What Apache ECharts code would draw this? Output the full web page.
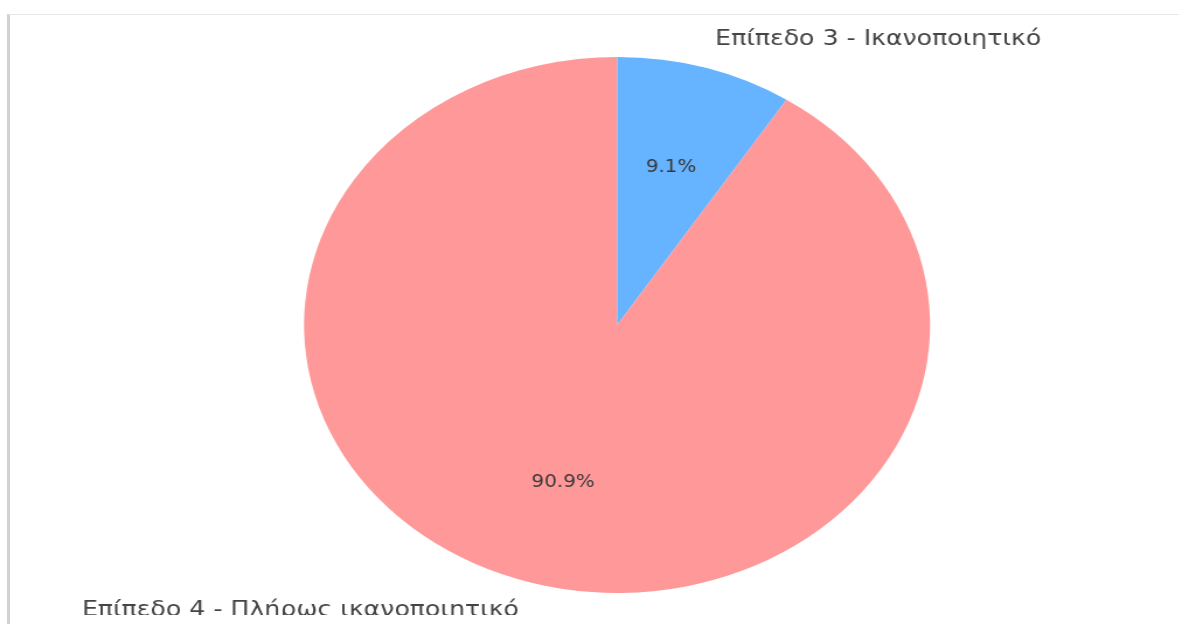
<!DOCTYPE html>
<html>
<head>
<meta charset="utf-8">
<script src="https://cdn.jsdelivr.net/npm/echarts@6/dist/echarts.min.js"></script>
<style>
  html, body { margin: 0; padding: 0; background: #ffffff; }
  body { width: 1179px; height: 624px; position: relative; overflow: hidden; }
  #frame { position: absolute; left: 7px; top: 14px; width: 1200px; height: 700px;
           border-top: 1px solid #e6e6e6; border-left: 3px solid #d2d2d2; background: #fff; }
  #clip { position: absolute; left: 0; top: 0; width: 1179px; height: 615px; overflow: hidden; }
  #chart { position: absolute; left: 0; top: 0; width: 1009px; height: 615px;
           transform: scaleX(1.168); transform-origin: 0 0; }
</style>
</head>
<body>
<div id="frame"></div>
<div id="clip"><div id="chart"></div></div>
<script>
const categories = ['Επίπεδο 3 - Ικανοποιητικό', 'Επίπεδο 4 - Πλήρως ικανοποιητικό'];
const values = [9.1, 90.9];
const colors = ['#66b3ff', '#ff9999'];

const chart = echarts.init(document.getElementById('chart'), null, { renderer: 'canvas' });
const R = 268;
const center = [528.3, 325];
const baseData = categories.map((c, i) => ({ name: c, value: values[i] }));

chart.setOption({
  animation: false,
  series: [
    {
      type: 'pie', center: center, radius: [0, R], startAngle: 90, clockwise: true,
      silent: true,
      data: baseData.map((d, i) => ({ ...d, itemStyle: { color: colors[i] } })),
      label: { show: false }, labelLine: { show: false }
    },
    {
      type: 'pie', center: center, radius: [R * 0.2, R], startAngle: 90, clockwise: true,
      silent: true, z: 3,
      data: baseData,
      itemStyle: { color: 'rgba(0,0,0,0)' },
      label: { show: true, position: 'inside', fontFamily: 'DejaVu Sans', fontSize: 17,
               color: '#383838', formatter: p => p.value.toFixed(1) + '%' },
      labelLine: { show: false }
    },
    {
      type: 'pie', center: center, radius: [R, R * 1.2], startAngle: 90, clockwise: true,
      silent: true, z: 3,
      data: baseData,
      itemStyle: { color: 'rgba(0,0,0,0)' },
      label: { show: true, position: 'inside', fontFamily: 'DejaVu Sans', fontSize: 21.6,
               color: '#444444', formatter: '{b}' },
      labelLine: { show: false },
      labelLayout: function (params) {
        return { align: params.dataIndex === 0 ? 'left' : 'right', verticalAlign: 'middle' };
      }
    }
  ]
});
</script>
</body>
</html>
